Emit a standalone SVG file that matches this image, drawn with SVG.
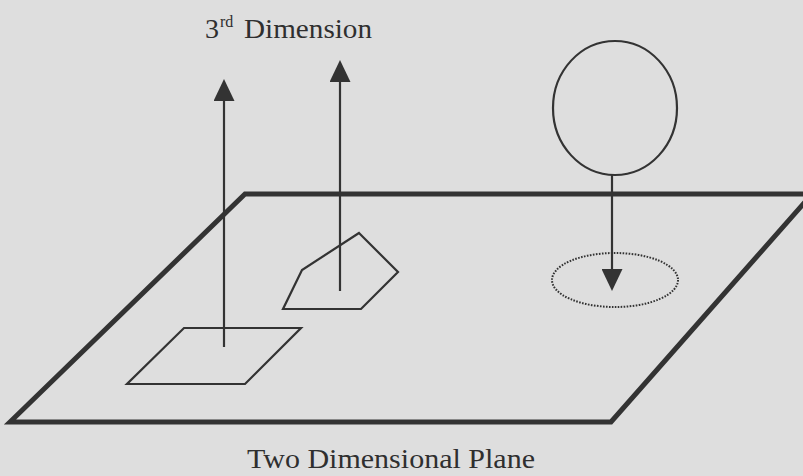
<svg xmlns="http://www.w3.org/2000/svg" width="803" height="476" viewBox="0 0 803 476">
<style>
.ink{fill:none;stroke:#333;stroke-linejoin:miter}
.thick{stroke-width:5}
.thin{stroke-width:2.2}
.dot{stroke-width:2;stroke-dasharray:1.6 1.4}
.lbl{font-family:"Liberation Serif","Times New Roman",serif;font-size:28px;fill:#2f2f2f}
</style>
<defs>
<marker id="ah" viewBox="0 0 22 21" refX="0" refY="10.5" markerWidth="22" markerHeight="21" markerUnits="userSpaceOnUse" orient="auto">
<path d="M0,0 L22,10.5 L0,21 z" fill="#333"/>
</marker>
</defs>
<rect width="803" height="476" fill="#dedede"/>
<g id="plane">
<polygon class="ink thick" points="10,422 245,194 812,194 611,422"/>
</g>
<g id="small-square">
<polygon class="ink thin" points="184,328 301,328 245,384 127,384"/>
</g>
<g id="pentagon">
<polygon class="ink thin" points="359,233 398,272 361,309 283,309 302,270"/>
</g>
<g id="sphere">
<ellipse class="ink thin" cx="615" cy="108" rx="62" ry="67"/>
</g>
<g id="shadow">
<ellipse class="ink dot" cx="615" cy="280" rx="63" ry="27"/>
</g>
<g id="connectors">
<line class="ink thin" x1="224" y1="347" x2="224" y2="101" marker-end="url(#ah)"/>
<line class="ink thin" x1="340" y1="291" x2="340" y2="82" marker-end="url(#ah)"/>
<line class="ink thin" x1="612" y1="175" x2="612" y2="269" marker-end="url(#ah)"/>
</g>
<g id="label-3rd">
<text class="lbl" y="38"><tspan x="205">3</tspan><tspan x="220" y="27" font-size="16">rd</tspan><tspan x="244" y="38" textLength="128" lengthAdjust="spacingAndGlyphs">Dimension</tspan></text>
</g>
<g id="label-plane">
<text class="lbl" x="247" y="468" font-size="27" textLength="288" lengthAdjust="spacingAndGlyphs">Two Dimensional Plane</text>
</g>
</svg>
